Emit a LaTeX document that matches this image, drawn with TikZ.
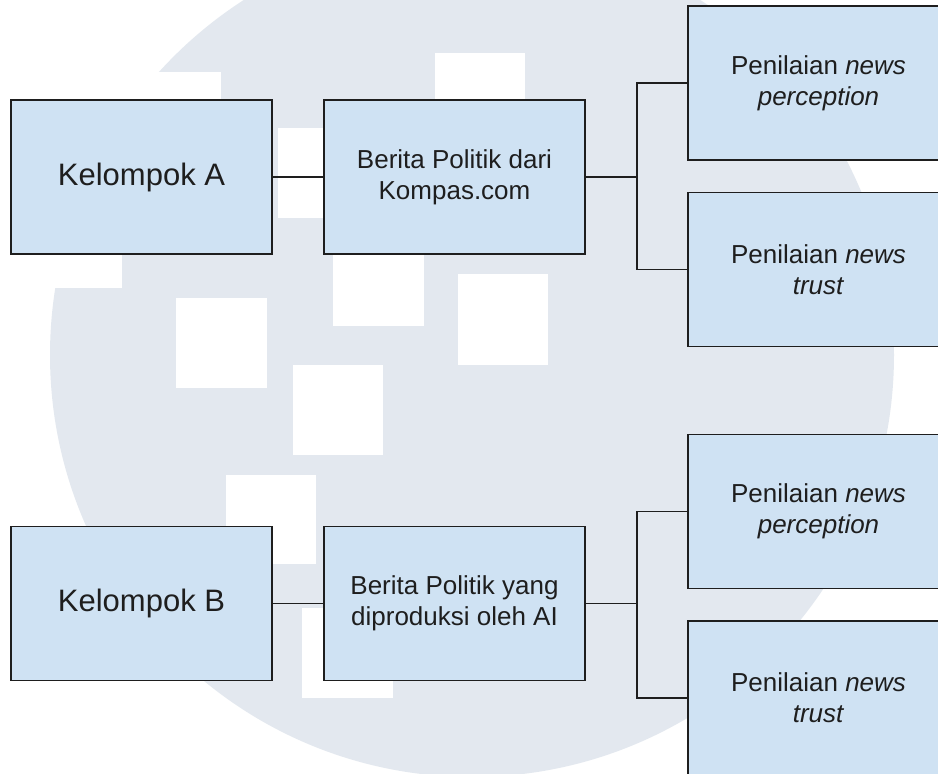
\documentclass[tikz,border=0pt]{standalone}
\usepackage{fontspec}
\setmainfont{Liberation Sans}
\definecolor{wmgray}{RGB}{227,232,239}
\definecolor{boxfill}{RGB}{207,226,243}
\definecolor{inkc}{RGB}{30,30,30}
\tikzset{
  boxnode/.style={draw=inkc, line width=1.7pt, fill=boxfill, rectangle,
    minimum width=261pt, minimum height=154pt, inner sep=0pt, outer sep=0pt,
    align=center, text=inkc},
  bigtxt/.style={font=\fontsize{31}{36}\selectfont},
  smalltxt/.style={font=\fontsize{26}{31}\selectfont},
  link/.style={draw=inkc, line width=1.5pt},
  wmsquare/.style={fill=white}
}
\begin{document}
\begin{tikzpicture}[x=1pt,y=-1pt]
\useasboundingbox (0,0) rectangle (938,774);
\fill[white] (0,0) rectangle (938,774);
% watermark
\fill[wmgray] (472,355) circle (422);
\fill[wmsquare] (0,72) rectangle (221,200);
\fill[wmsquare] (0,72) rectangle (122,288);
\fill[wmsquare] (435,53) rectangle (525,143);
\fill[wmsquare] (278,128) rectangle (368,218);
\fill[wmsquare] (333,236) rectangle (424,326);
\fill[wmsquare] (458,274) rectangle (548,365);
\fill[wmsquare] (176,298) rectangle (267,388);
\fill[wmsquare] (293,365) rectangle (383,455);
\fill[wmsquare] (226,475) rectangle (316,564);
\fill[wmsquare] (302,608) rectangle (393,698);
% group A
\node[boxnode, bigtxt] (A1) at (141.5,177) {Kelompok A};
\node[boxnode, smalltxt] (B1) at (454.5,177) {Berita Politik dari\\Kompas.com};
\node[boxnode, smalltxt] (P1) at (818.5,83) {Penilaian \textit{news}\\\textit{perception}};
\node[boxnode, smalltxt] (T1) at (818.5,269.5) {Penilaian \textit{news}\\\textit{trust}};
\coordinate (J1) at ([xshift=52pt]B1.east);
\draw[link] (A1.east) -- (B1.west);
\draw[link] (B1.east) -- (J1);
\draw[link] (J1) |- (P1.west);
\draw[link] (J1) |- (T1.west);
% group B
\node[boxnode, bigtxt] (A2) at (141.5,603.5) {Kelompok B};
\node[boxnode, smalltxt] (B2) at (454.5,603.5) {Berita Politik yang\\diproduksi oleh AI};
\node[boxnode, smalltxt] (P2) at (818.5,511.5) {Penilaian \textit{news}\\\textit{perception}};
\node[boxnode, smalltxt] (T2) at (818.5,698) {Penilaian \textit{news}\\\textit{trust}};
\coordinate (J2) at ([xshift=52pt]B2.east);
\draw[link] (A2.east) -- (B2.west);
\draw[link] (B2.east) -- (J2);
\draw[link] (J2) |- (P2.west);
\draw[link] (J2) |- (T2.west);
\end{tikzpicture}
\end{document}
